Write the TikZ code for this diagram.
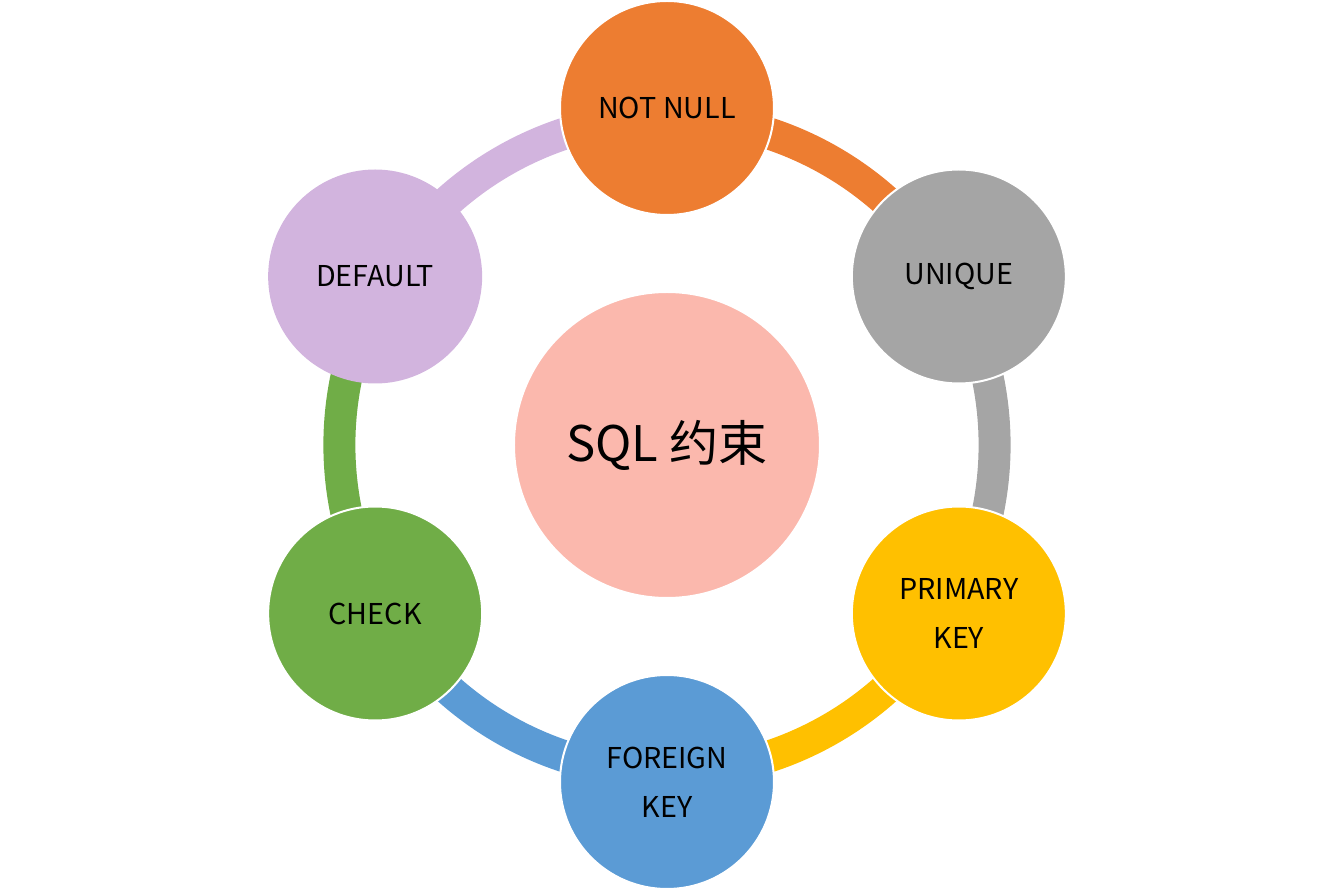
\documentclass[tikz,border=0pt]{standalone}
\usepackage{fontspec}
\usepackage{tikz}
\usetikzlibrary{calc,backgrounds}
\newfontfamily\cjk{Noto Sans CJK SC}
\definecolor{burnt}{HTML}{ED7D31}
\definecolor{ash}{HTML}{A5A5A5}
\definecolor{gold}{HTML}{FFC000}
\definecolor{sky}{HTML}{5B9BD5}
\definecolor{leaf}{HTML}{70AD47}
\definecolor{lilac}{HTML}{D2B4DE}
\definecolor{salmon}{HTML}{FBB8AD}
\newcommand{\rim}{0.973}
\tikzset{
  bubble/.style={circle, draw=white, line width=2pt, inner sep=0pt, minimum size=214pt,
                 align=center, text=black, font=\cjk\fontsize{28.7}{49}\selectfont},
  hubbox/.style={bubble, minimum size=306pt, font=\cjk\fontsize{49}{58}\selectfont},
  ring/.style={line width=32pt, line cap=butt}
}

\begin{document}
\begin{tikzpicture}[x=1pt, y=1pt]
 \useasboundingbox (-667,-446) rectangle (667,445);
 \node[hubbox, fill=salmon] (hub) at (0,0) {SQL 约束};
 \node[bubble, fill=burnt] (nn) at (90:337) {NOT NULL};
 \node[bubble, fill=ash] (uq) at (30:337) {UNIQUE};
 \node[bubble, fill=gold] (pk) at (-30:337) {PRIMARY\\KEY};
 \node[bubble, fill=sky] (fk) at (-90:337) {FOREIGN\\KEY};
 \node[bubble, fill=leaf] (ck) at (-150:337) {CHECK};
 \node[bubble, fill=lilac, draw=none] (df) at (150:337) {DEFAULT};

 \begin{scope}[on background layer]
  \draw[ring, burnt] ($(hub)!\rim!(nn)$) to[bend left=30, looseness=.91] ($(hub)!\rim!(uq)$);
  \draw[ring, ash] ($(hub)!\rim!(uq)$) to[bend left=30, looseness=.91] ($(hub)!\rim!(pk)$);
  \draw[ring, gold] ($(hub)!\rim!(pk)$) to[bend left=30, looseness=.91] ($(hub)!\rim!(fk)$);
  \draw[ring, sky] ($(hub)!\rim!(fk)$) to[bend left=30, looseness=.91] ($(hub)!\rim!(ck)$);
  \draw[ring, leaf] ($(hub)!\rim!(ck)$) to[bend left=30, looseness=.91] ($(hub)!\rim!(df)$);
  \draw[ring, lilac] ($(hub)!\rim!(df)$) to[bend left=30, looseness=.91] ($(hub)!\rim!(nn)$);
 \end{scope}
\end{tikzpicture}
\end{document}
